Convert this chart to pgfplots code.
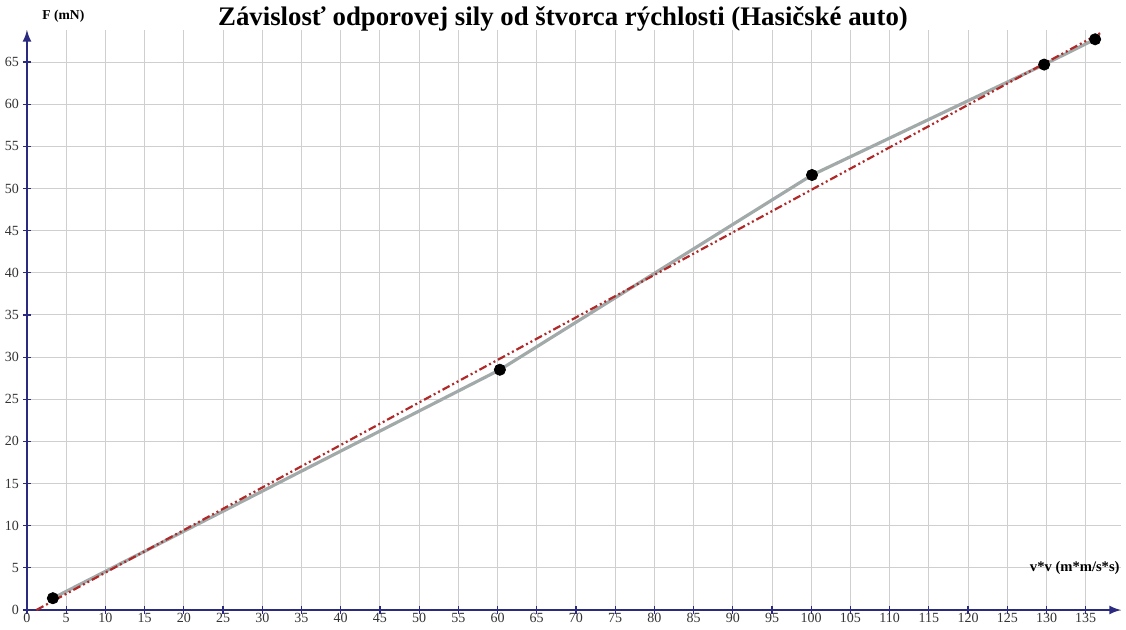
\documentclass[border=0pt]{standalone}
\usepackage{fontspec}
\setmainfont{Liberation Serif}
\usepackage{pgfplots}
\pgfplotsset{compat=1.18}
\definecolor{axblue}{HTML}{2A2A80}
\definecolor{fitred}{HTML}{B02828}
\definecolor{datagray}{HTML}{A2A9A9}
\definecolor{gridgray}{HTML}{CFCFCF}
\begin{document}
\begin{tikzpicture}
\begin{axis}[
  at={(0,0)}, anchor=south west,
  scale only axis, width=547pt, height=290pt,
  xmin=0, xmax=139.5, ymin=0, ymax=68.8,
  axis lines=left,
  axis line style={draw=axblue, line width=1pt, -latex},
  xtick={0,5,...,135}, ytick={0,5,...,65},
  grid=major, major grid style={draw=gridgray, line width=0.5pt},
  tick align=center, major tick length=4pt,
  tick style={draw=axblue, line width=0.6pt},
  tick label style={font=\fontsize{7}{8}\selectfont, text=black!80},
  /pgf/number format/assume math mode=true,
  xticklabel style={inner sep=1pt, yshift=1.5pt},
  yticklabel style={xshift=1.5pt},
  clip=false,
]
\addplot[datagray, line width=1.6pt] coordinates {(3.3,1.4) (60.3,28.5) (100.1,51.6) (129.7,64.7) (136.2,67.7)};
\addplot[fitred, line width=1.1pt, dash pattern=on 4pt off 1.5pt on 1pt off 1.5pt on 1pt off 1.5pt] coordinates {(1.2,0) (137,68.5)};
\addplot[only marks, mark=*, mark size=2.8pt, black] coordinates {(3.3,1.4) (60.3,28.5) (100.1,51.6) (129.7,64.7) (136.2,67.7)};
\end{axis}
\node[font=\bfseries\fontsize{13.4}{15}\selectfont] at (268pt,295.5pt) {Závislosť odporovej sily od štvorca rýchlosti (Hasičské auto)};
\node[anchor=west, font=\bfseries\fontsize{6.8}{8}\selectfont, inner sep=0pt] at (7.5pt,297pt) {F (mN)};
\node[anchor=east, font=\bfseries\fontsize{7.3}{8}\selectfont, inner sep=0pt] at (546.5pt,21pt) {v*v (m*m/s*s)};
\pgfresetboundingbox
\useasboundingbox (-13.5pt,-9.5pt) rectangle (549.5pt,305pt);
\end{tikzpicture}
\end{document}
